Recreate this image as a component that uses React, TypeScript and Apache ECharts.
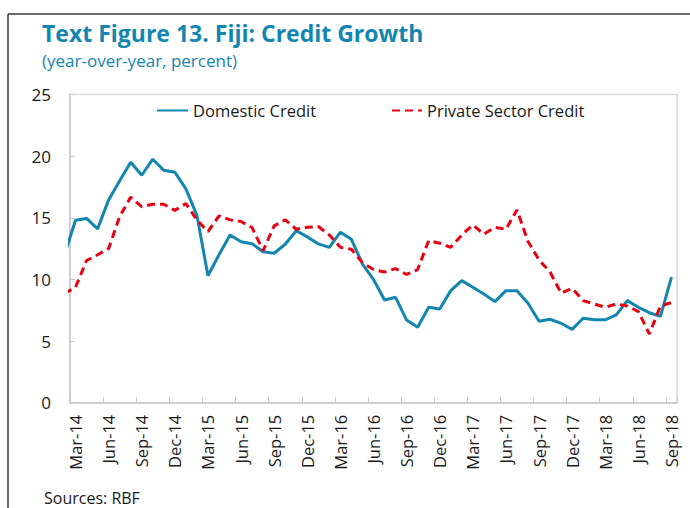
import React, { useEffect, useRef } from "react";
import * as echarts from "echarts";

// Feb-14 is a leading point that sits just left of the plot (clipped), as in the source
const months = [
  "Feb-14",
  "Mar-14", "Apr-14", "May-14", "Jun-14", "Jul-14", "Aug-14", "Sep-14", "Oct-14", "Nov-14", "Dec-14",
  "Jan-15", "Feb-15", "Mar-15", "Apr-15", "May-15", "Jun-15", "Jul-15", "Aug-15", "Sep-15", "Oct-15", "Nov-15", "Dec-15",
  "Jan-16", "Feb-16", "Mar-16", "Apr-16", "May-16", "Jun-16", "Jul-16", "Aug-16", "Sep-16", "Oct-16", "Nov-16", "Dec-16",
  "Jan-17", "Feb-17", "Mar-17", "Apr-17", "May-17", "Jun-17", "Jul-17", "Aug-17", "Sep-17", "Oct-17", "Nov-17", "Dec-17",
  "Jan-18", "Feb-18", "Mar-18", "Apr-18", "May-18", "Jun-18", "Jul-18", "Aug-18", "Sep-18",
];

const domesticCredit = [
  12.0,
  14.8, 14.95, 14.1, 16.45, 18.0, 19.5, 18.45, 19.75, 18.85, 18.7,
  17.35, 15.2, 10.3, 12.0, 13.6, 13.05, 12.9, 12.25, 12.12, 12.85, 13.95, 13.45,
  12.88, 12.6, 13.83, 13.25, 11.25, 10.0, 8.33, 8.55, 6.7, 6.12, 7.74, 7.6,
  9.09, 9.9, 9.37, 8.82, 8.2, 9.09, 9.09, 8.07, 6.6, 6.77, 6.44, 5.95,
  6.85, 6.72, 6.72, 7.12, 8.28, 7.74, 7.3, 7.0, 10.18,
];

const privateSectorCredit = [
  8.85,
  9.37, 11.53, 12.0, 12.5, 15.1, 16.67, 15.9, 16.1, 16.1, 15.6,
  16.15, 14.83, 13.88, 15.15, 14.83, 14.7, 14.2, 12.34, 14.34, 14.83, 14.07, 14.23,
  14.29, 13.6, 12.6, 12.45, 11.36, 10.8, 10.6, 10.88, 10.4, 10.8, 13.15, 12.94,
  12.6, 13.6, 14.42, 13.67, 14.23, 14.07, 15.64, 13.07, 11.58, 10.6, 8.88, 9.28,
  8.28, 8.01, 7.74, 8.01, 7.85, 7.39, 5.57, 7.85, 8.12,
];

const titleText = "Text Figure 13. Fiji: Credit Growth";
const subtitleText = "(year-over-year, percent)";
const sourceText = "Sources: RBF";

const FONT = "'Open Sans', 'Noto Sans', sans-serif";
const TEAL = "#1386b0";
const RED = "#e60012";

export default function App() {
  const ref = useRef<HTMLDivElement>(null);

  useEffect(() => {
    if (!ref.current) return;
    const chart = echarts.init(ref.current, undefined, { renderer: "svg" });
    const isLabeled = (idx: number) => idx >= 1 && (idx - 1) % 3 === 0;
    const legendText = { fontSize: 16.5, color: "#1a1a1a", fontFamily: FONT };
    chart.setOption({
      animation: false,
      backgroundColor: "#ffffff",
      textStyle: { fontFamily: FONT },
      grid: {
        left: 70,
        right: 13,
        top: 94.5,
        bottom: 105.3,
        show: true,
        borderColor: "#d9d9d9",
        borderWidth: 1.5,
        containLabel: false,
      },
      legend: [
        {
          data: ["Domestic Credit"],
          left: 151,
          top: 97,
          itemWidth: 31,
          itemHeight: 12,
          itemStyle: { opacity: 0 },
          textStyle: legendText,
        },
        {
          data: ["Private Sector Credit"],
          left: 386,
          top: 97,
          itemWidth: 30,
          itemHeight: 12,
          itemStyle: { opacity: 0 },
          textStyle: legendText,
        },
      ],
      xAxis: {
        type: "category",
        data: months,
        min: 1,
        boundaryGap: true,
        axisLine: { show: true, lineStyle: { color: "#c8c8c8", width: 1.5 } },
        axisTick: {
          show: true,
          inside: true,
          length: 6,
          interval: (idx: number) => isLabeled(idx),
          lineStyle: { color: "#c8c8c8", width: 1 },
        },
        axisLabel: {
          interval: (idx: number) => isLabeled(idx),
          rotate: 90,
          fontSize: 16.5,
          color: "#1a1a1a",
          fontFamily: FONT,
          margin: 12,
        },
        splitLine: { show: false },
      },
      yAxis: {
        type: "value",
        min: 0,
        max: 25,
        interval: 5,
        axisLine: { show: true, lineStyle: { color: "#c8c8c8", width: 1.5 } },
        axisTick: { show: true, inside: true, length: 5, lineStyle: { color: "#c8c8c8" } },
        axisLabel: { fontSize: 17, color: "#1a1a1a", fontFamily: FONT, margin: 19 },
        splitLine: { show: false },
      },
      series: [
        {
          name: "Domestic Credit",
          type: "line",
          data: domesticCredit,
          symbol: "none",
          clip: true,
          lineStyle: { color: TEAL, width: 3 },
          itemStyle: { color: TEAL },
        },
        {
          name: "Private Sector Credit",
          type: "line",
          data: privateSectorCredit,
          symbol: "none",
          clip: true,
          lineStyle: { color: RED, width: 3, type: [8, 5] },
          itemStyle: { color: RED },
        },
      ],
      graphic: [
        {
          type: "line",
          shape: { x1: 8, y1: 14, x2: 690, y2: 14 },
          style: { stroke: "#3a3a3a", lineWidth: 1.5 },
        },
        {
          type: "line",
          shape: { x1: 8, y1: 14, x2: 8, y2: 508 },
          style: { stroke: "#3a3a3a", lineWidth: 1.5 },
        },
        {
          type: "text",
          left: 42,
          top: 21,
          style: {
            text: titleText,
            fill: TEAL,
            font: `bold 23px ${FONT}`,
          },
        },
        {
          type: "text",
          left: 42,
          top: 52,
          style: {
            text: subtitleText,
            fill: TEAL,
            font: `17px ${FONT}`,
          },
        },
        {
          type: "text",
          left: 44,
          top: 490,
          style: {
            text: sourceText,
            fill: "#1a1a1a",
            font: `16px ${FONT}`,
          },
        },
      ],
    });
    return () => chart.dispose();
  }, []);

  return (
    <div
      ref={ref}
      style={{ position: "absolute", left: 0, top: 0, width: 690, height: 508 }}
    />
  );
}
